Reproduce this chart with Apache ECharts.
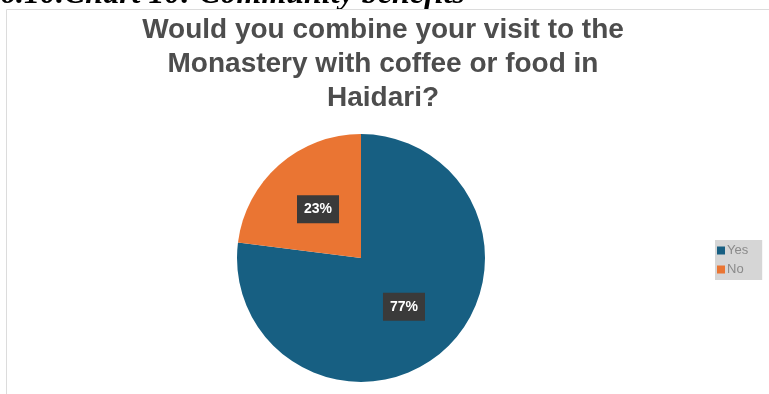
<!DOCTYPE html>
<html><head><meta charset="utf-8">
<script src="https://cdn.jsdelivr.net/npm/echarts@6/dist/echarts.min.js"></script>
<style>html,body{margin:0;padding:0;background:#fff}#c{width:769px;height:394px}</style>
</head><body><div id="c"></div>
<script>
const categories = ["Yes", "No"];
const values = [77, 23];
const colors = ["#175f82", "#ea7533"];
const titleText = "Would you combine your visit to the\nMonastery with coffee or food in\nHaidari?";
const headingText = "6.10.Chart 10: Community benefits";

const chart = echarts.init(document.getElementById('c'), null, {renderer: 'canvas'});
chart.setOption({
  animation: false,
  backgroundColor: '#fff',
  title: {
    text: titleText, left: 378, top: 8, textAlign: 'center',
    textStyle: {fontFamily: 'Liberation Sans, Arial, sans-serif', fontWeight: 'bold', fontSize: 28, color: '#4d4d4d', lineHeight: 34}
  },
  legend: {
    orient: 'vertical', left: 715, top: 240, itemWidth: 8, itemHeight: 8, itemGap: 6,
    padding: [4, 14, 4, 2], backgroundColor: '#d6d6d6', borderRadius: 0,
    icon: 'rect',
    textStyle: {fontFamily: 'Liberation Sans, Arial, sans-serif', fontSize: 13, color: '#8a8a8a', padding: [0,0,0,-3]},
    data: categories
  },
  graphic: [
    {type: 'text', left: 0, top: -21, style: {text: headingText, font: 'italic bold 32px "Liberation Serif", serif', fill: '#000'}},
    {type: 'rect', shape: {x: 6.5, y: 9.5, width: 800, height: 400}, style: {fill: 'none', stroke: '#dcdcdc', lineWidth: 1}}
  ],
  series: [{
    type: 'pie', center: [361, 258], radius: [0, 124], startAngle: 90, clockwise: true,
    label: {
      show: true, position: 'inside', formatter: '{d}%',
      fontFamily: 'Liberation Sans, Arial, sans-serif', fontWeight: 'bold', fontSize: 14, color: '#fff',
      backgroundColor: '#3a3a3a', padding: [7, 7, 7, 7]
    },
    labelLine: {show: false},
    emphasis: {disabled: true},
    itemStyle: {borderWidth: 0},
    data: categories.map((n, i) => ({name: n, value: values[i], itemStyle: {color: colors[i]}}))
  }]
});
</script></body></html>
